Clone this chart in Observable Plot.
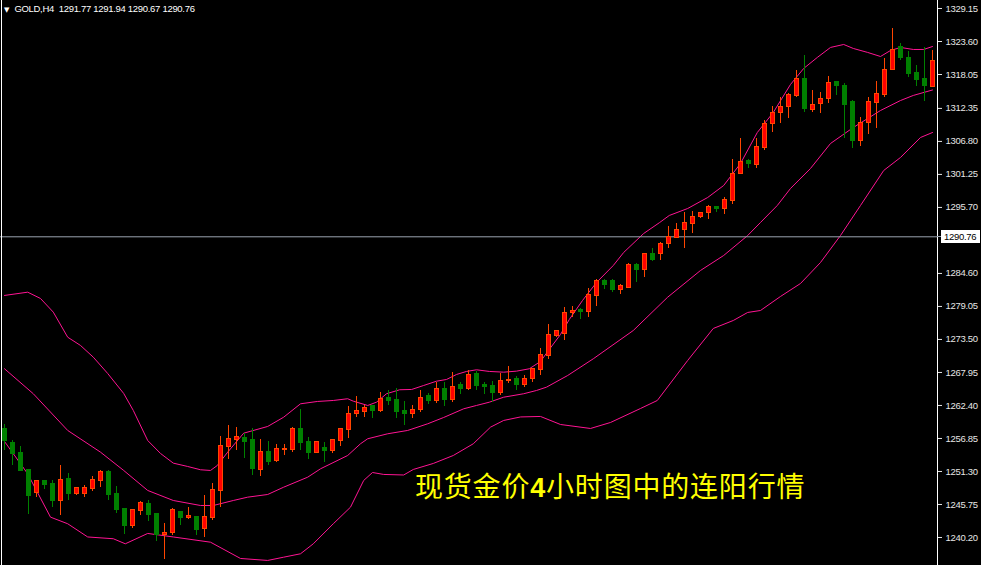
<!DOCTYPE html>
<html><head><meta charset="utf-8">
<script src="https://cdn.jsdelivr.net/npm/d3@7"></script>
<script src="https://cdn.jsdelivr.net/npm/@observablehq/plot@0.6"></script>
<style>
html,body{margin:0;padding:0;background:#000;}
#wrap{position:relative;width:981px;height:565px;overflow:hidden;background:#000;}
#wrap svg{display:block;}
#hdr{position:absolute;left:4px;top:3px;color:#fff;font-family:"Liberation Sans",sans-serif;font-size:9.5px;letter-spacing:-0.3px;white-space:pre;line-height:11px;}
#hdr .tri{font-family:"DejaVu Sans";font-size:7px;letter-spacing:0;margin-right:5px;}
#note{position:absolute;left:415px;top:471px;color:#ffff00;font-family:"Noto Sans CJK SC",sans-serif;font-size:28px;line-height:28px;letter-spacing:0.8px;white-space:nowrap;}
#note b{font-family:"Liberation Sans",sans-serif;font-weight:bold;font-size:27px;}
</style></head><body><div id="wrap"></div>
<script>
// ---- data ----
const symbol = "GOLD,H4";
const headerValues = [1291.77, 1291.94, 1290.67, 1290.76];
const titleParts = ["现货金价", "4", "小时图中的连阳行情"];
const lineLevel = 1290.76;
const yTicks = [1329.15,1323.60,1318.05,1312.35,1306.80,1301.25,1295.70,1284.60,1279.05,1273.50,1267.95,1262.40,1256.85,1251.30,1245.75,1240.20];

const opens = [1258.36,1256.01,1254.33,1251.47,1247.65,1249.62,1249.12,1246.31,1249.96,1247.48,1247.48,1248.39,1249.67,1251.18,1247.43,1244.96,1242.05,1244.63,1245.80,1244.12,1240.54,1240.93,1244.46,1243.40,1243.62,1241.67,1243.45,1247.99,1255.39,1256.56,1256.90,1256.51,1251.52,1254.50,1252.98,1254.95,1254.88,1258.41,1256.18,1254.38,1255.22,1254.71,1256.40,1258.25,1260.94,1261.27,1262.23,1261.44,1263.63,1263.24,1261.39,1260.94,1261.56,1263.91,1263.12,1265.09,1263.24,1265.76,1265.21,1267.61,1265.88,1265.59,1264.47,1266.43,1266.89,1265.76,1266.77,1268.28,1270.69,1274.05,1274.39,1277.92,1278.37,1278.09,1280.78,1283.25,1283.25,1281.74,1282.19,1285.94,1285.15,1287.79,1287.84,1289.52,1290.53,1291.94,1292.92,1294.06,1294.73,1295.69,1295.44,1296.75,1301.29,1303.43,1302.87,1305.66,1309.70,1311.62,1312.56,1314.41,1317.33,1312.00,1313.06,1313.90,1316.71,1316.04,1313.35,1306.84,1309.87,1313.23,1314.53,1318.85,1322.65,1320.86,1318.28,1317.22,1315.92];
const highs = [1259.20,1256.51,1255.50,1251.64,1249.79,1249.70,1249.79,1252.31,1250.97,1248.60,1248.90,1250.46,1251.47,1251.47,1248.78,1245.13,1244.96,1246.31,1246.48,1244.29,1242.61,1245.13,1244.60,1245.30,1243.74,1247.27,1249.33,1257.19,1259.04,1258.70,1257.64,1258.48,1256.68,1256.34,1255.79,1255.79,1258.65,1261.73,1257.07,1256.23,1256.23,1256.68,1258.58,1262.23,1263.91,1262.40,1262.40,1264.53,1264.92,1265.21,1263.07,1262.40,1264.92,1264.47,1266.32,1266.32,1267.90,1266.32,1268.28,1268.12,1266.32,1266.43,1267.73,1268.96,1267.33,1267.44,1268.67,1271.93,1276.02,1275.00,1278.93,1279.05,1278.66,1282.12,1283.59,1283.59,1283.59,1282.75,1286.23,1286.23,1287.91,1288.75,1289.76,1292.50,1293.05,1294.90,1295.07,1294.85,1296.03,1295.86,1297.42,1303.76,1307.24,1303.71,1307.35,1310.32,1312.68,1314.24,1314.81,1318.65,1321.25,1315.37,1314.98,1317.72,1316.93,1316.49,1313.68,1310.88,1314.14,1316.88,1320.70,1325.74,1323.22,1321.92,1319.57,1322.65,1322.09];
const lows = [1254.83,1252.31,1251.30,1244.12,1246.98,1248.32,1245.30,1243.90,1246.48,1247.20,1246.98,1247.99,1248.66,1246.42,1244.19,1240.76,1241.77,1243.95,1242.94,1239.58,1236.50,1240.59,1242.22,1243.28,1240.54,1240.26,1243.06,1245.30,1253.32,1254.83,1253.54,1250.63,1250.46,1252.31,1252.86,1253.99,1254.45,1254.83,1253.37,1254.28,1252.86,1254.38,1255.56,1256.90,1260.43,1260.43,1260.16,1261.27,1262.40,1260.26,1259.04,1260.26,1261.17,1262.57,1262.79,1262.23,1262.95,1264.25,1264.97,1264.97,1264.20,1262.95,1264.08,1266.15,1264.92,1265.48,1266.22,1267.44,1270.13,1273.78,1273.38,1277.25,1276.91,1277.25,1279.10,1281.90,1281.45,1281.06,1282.02,1283.13,1283.97,1286.66,1286.78,1288.85,1290.40,1288.75,1291.37,1293.89,1293.59,1294.90,1294.43,1296.15,1301.19,1302.20,1302.20,1305.28,1308.25,1309.87,1310.71,1314.24,1311.72,1311.72,1311.55,1313.23,1314.53,1307.24,1305.66,1305.95,1307.97,1309.03,1314.24,1318.73,1320.41,1317.50,1316.09,1313.57,1315.92];
const closes = [1256.40,1254.28,1251.35,1247.10,1249.62,1249.00,1246.31,1249.91,1247.55,1248.44,1248.44,1249.79,1251.18,1247.27,1244.74,1242.05,1244.79,1245.92,1243.95,1240.59,1240.88,1244.74,1243.45,1243.79,1241.38,1243.62,1248.11,1255.50,1256.68,1257.02,1256.34,1251.64,1254.50,1252.86,1255.00,1255.12,1258.36,1256.06,1254.38,1256.18,1254.71,1256.51,1258.36,1261.00,1261.39,1262.01,1261.44,1263.41,1263.12,1261.27,1260.89,1261.56,1263.69,1263.12,1265.21,1263.24,1265.48,1265.21,1267.56,1265.59,1265.48,1264.42,1266.43,1266.60,1265.76,1266.89,1268.45,1270.81,1274.17,1274.84,1277.99,1278.21,1278.09,1280.90,1283.25,1282.58,1281.74,1282.41,1285.94,1285.10,1287.79,1286.78,1289.59,1290.70,1291.83,1293.00,1294.15,1294.68,1295.69,1295.44,1297.00,1301.36,1303.31,1302.92,1305.78,1309.77,1311.62,1312.51,1314.53,1317.33,1312.17,1312.96,1313.97,1316.66,1316.09,1312.84,1306.84,1309.93,1313.35,1314.69,1318.85,1322.21,1320.80,1318.06,1317.05,1316.09,1320.24];

// Bollinger bands, sampled along the bar index
const upperPos = [0,2.9,4.5,6.1,7.9,9.5,11.1,12.9,14.9,16.1,17.9,19.5,21.1,22.9,24.5,25.75,26.6,27.9,29.9,32.9,34.9,37,39.1,41.1,42.9,43.6,45.4,46.5,47.75,49.4,50.9,52.4,54,55.25,56.5,57.75,59,60.6,62.4,64,65.6,67,68,69.5,70.6,72.25,74,76.1,77.4,79.9,81.9,83.1,85.4,87.9,89.9,92,94.1,96.1,98.25,99.9,101.6,103.25,104.9,106.1,107.9,109.5,110.75,112,113.6,114.9,116];
const upperVal = [1280.90,1281.45,1280.39,1278.09,1273.88,1272.49,1270.52,1267.78,1264.42,1261.56,1256.51,1254.33,1252.70,1252.14,1251.59,1251.47,1252.31,1254.55,1257.74,1258.87,1260.43,1262.68,1263.07,1263.24,1263.53,1263.12,1262.40,1262.95,1264.37,1265.04,1265.09,1265.76,1266.48,1266.77,1267.61,1268.12,1268.40,1268.12,1268.00,1268.17,1268.57,1269.80,1271.65,1274.34,1276.86,1280.05,1283.08,1285.94,1288.13,1291.32,1293.17,1294.35,1295.52,1297.37,1299.39,1303.09,1308.30,1311.67,1316.38,1319.07,1320.92,1322.60,1323.10,1322.43,1321.76,1321.08,1322.09,1322.60,1322.26,1322.26,1322.76];
const middlePos = [0,3.6,7.9,12,14.9,17.9,21.1,24.5,26.1,28.6,30.4,32.9,34.9,37.9,39.5,42.9,44.5,45.4,47.9,50.4,52.9,54.9,57.4,59,60.6,62.4,64.9,66.5,67.75,70.4,73.6,78.6,82.9,87,89.9,92.9,94.5,96.6,98.25,100.75,103.25,106.1,109.5,112,113.6,116];
const middleVal = [1268.57,1264.37,1258.20,1254.55,1251.47,1248.11,1246.42,1245.58,1245.58,1246.42,1246.98,1247.43,1248.66,1250.34,1251.75,1253.99,1255.96,1256.80,1257.64,1258.20,1259.32,1260.38,1261.84,1262.40,1262.95,1263.79,1264.37,1264.92,1265.48,1267.44,1270.25,1275.01,1280.61,1285.10,1287.62,1290.98,1293.17,1296.03,1298.89,1302.25,1306.45,1309.14,1312.00,1313.68,1314.53,1315.45];
const lowerPos = [0,2.9,5.75,7.9,10.4,13.6,15.1,17.9,21.1,25.75,29.5,32.9,34.9,37,38.6,41.1,43.25,44.9,46,47.4,49.9,51.1,53.6,56.1,58.6,60.75,62.4,64.5,67,69.5,73.25,75.75,79.5,81.6,85.4,88.6,91.1,92.9,94.5,97,99.5,102,104.5,107,109.9,112,114.5,116];
const lowerVal = [1256.35,1250.91,1243.62,1242.51,1240.29,1239.99,1239.14,1240.88,1240.29,1239.41,1236.67,1236.34,1236.89,1237.46,1239.14,1242.51,1245.30,1249.79,1251.13,1250.80,1250.71,1251.64,1252.65,1253.99,1255.96,1258.75,1259.88,1260.47,1260.55,1259.20,1258.53,1259.54,1261.89,1263.24,1269.97,1275.35,1276.69,1278.04,1278.37,1280.73,1282.91,1286.44,1290.98,1296.03,1301.91,1304.10,1307.46,1308.30];

// ---- build ----
const candles = opens.map((o, i) => ({i, o, h: highs[i], l: lows[i], c: closes[i], up: closes[i] >= o}));
const band = (pos, val) => pos.map((p, j) => ({p, v: val[j]}));
const upper = band(upperPos, upperVal), middle = band(middlePos, middleVal), lower = band(lowerPos, lowerVal);

const W = 981, H = 565, MR = 44;
const BAND = "#ff1493", UPW = "#ff4500", UPF = "#ff0000", DN = "#008000";

const plot = Plot.plot({
  width: W, height: H,
  marginLeft: 0, marginRight: MR, marginTop: 0, marginBottom: 0,
  style: {background: "#000", color: "#e6e6e6", fontFamily: "Liberation Sans, sans-serif", fontSize: "9.5px", letterSpacing: "-0.3px"},
  x: {type: "linear", domain: [-0.5, 116.625], axis: null},
  y: {domain: [1235.49, 1330.495], axis: null},
  color: {type: "identity"},
  marks: [
    Plot.line(upper, {x: "p", y: "v", stroke: BAND, strokeWidth: 1}),
    Plot.line(middle, {x: "p", y: "v", stroke: BAND, strokeWidth: 1}),
    Plot.line(lower, {x: "p", y: "v", stroke: BAND, strokeWidth: 1}),
    Plot.ruleY([lineLevel], {stroke: "#9aa3b0", strokeWidth: 1}),
    Plot.ruleX(candles, {x: "i", y1: "l", y2: "h", stroke: d => d.up ? UPW : DN, strokeWidth: 1, shapeRendering: "crispEdges"}),
    Plot.rect(candles, {x1: d => d.i - 0.25, x2: d => d.i + 0.25, y1: "o", y2: "c",
      fill: d => d.up ? UPF : DN, stroke: d => d.up ? UPW : DN, strokeWidth: 1, shapeRendering: "crispEdges"}),
    Plot.axisY(yTicks, {anchor: "right", tickSize: 4, tickPadding: 4, tickFormat: d => d.toFixed(2),
      fontSize: 9.5, color: "#e6e6e6"})
  ]
});

const wrap = document.getElementById("wrap");
wrap.appendChild(plot);

// frame borders, price label box
const svg = d3.select(plot);
const xR = W - MR;
svg.append("line").attr("x1", xR + 0.5).attr("x2", xR + 0.5).attr("y1", 0).attr("y2", H).attr("stroke", "#ffffff");
svg.append("line").attr("x1", 1.5).attr("x2", 1.5).attr("y1", 0).attr("y2", H).attr("stroke", "#ffffff");
const ly = plot.scale("y").apply(lineLevel);
svg.append("line").attr("x1", xR).attr("x2", xR + 4).attr("y1", Math.round(ly) + 0.5).attr("y2", Math.round(ly) + 0.5).attr("stroke", "#9aa3b0");
svg.append("rect").attr("x", xR + 4).attr("y", Math.round(ly) - 6).attr("width", 39).attr("height", 13).attr("fill", "#ffffff");
svg.append("text").attr("x", xR + 7).attr("y", ly).attr("dy", "0.35em").attr("fill", "#000")
  .attr("text-anchor", "start")
  .style("font-family", "Liberation Sans, sans-serif").style("font-size", "9.5px").text(lineLevel.toFixed(2));

// header
const hdr = document.createElement("div");
hdr.id = "hdr";
hdr.innerHTML = '<span class="tri">\u25BC</span>' + symbol + '  ' + headerValues.map(v => v.toFixed(2)).join(" ");
wrap.appendChild(hdr);

// annotation
const note = document.createElement("div");
note.id = "note";
note.appendChild(document.createTextNode(titleParts[0]));
const b = document.createElement("b"); b.textContent = titleParts[1]; note.appendChild(b);
note.appendChild(document.createTextNode(titleParts[2]));
wrap.appendChild(note);
</script>
</body></html>
